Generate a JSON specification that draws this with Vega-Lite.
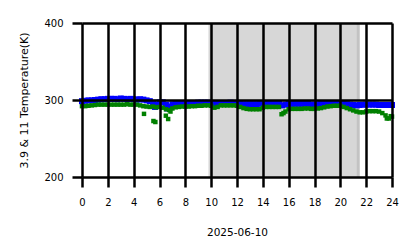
{
  "$schema": "https://vega.github.io/schema/vega-lite/v6.json",
  "width": 310,
  "height": 154,
  "autosize": "none",
  "padding": {"left": 82, "top": 23, "right": 26, "bottom": 71},
  "background": "white",
  "config": {
    "view": {"stroke": null},
    "font": "DejaVu Sans",
    "axis": {
      "grid": true,
      "gridColor": "black",
      "gridWidth": 2.5,
      "gridOpacity": 1,
      "domain": false,
      "tickColor": "black",
      "tickWidth": 2.5,
      "tickSize": 10,
      "labelFlush": false,
      "labelFont": "DejaVu Sans",
      "labelFontSize": 10,
      "labelColor": "black",
      "titleFont": "DejaVu Sans",
      "titleFontWeight": "normal",
      "titleColor": "black"
    }
  },
  "datasets": {
    "night": [
      {"start": 9.79, "end": 21.5},
      {"start": 21.27, "end": 21.5}
    ],
    "temps": [
      {"h": 0, "band": "3.9", "T": 298.5}, {"h": 0.25, "band": "3.9", "T": 299}, {"h": 0.5, "band": "3.9", "T": 299.5}, {"h": 0.75, "band": "3.9", "T": 299.5},
      {"h": 1, "band": "3.9", "T": 300}, {"h": 1.25, "band": "3.9", "T": 300.5}, {"h": 1.5, "band": "3.9", "T": 301}, {"h": 1.75, "band": "3.9", "T": 301},
      {"h": 2, "band": "3.9", "T": 301.5}, {"h": 2.25, "band": "3.9", "T": 301.5}, {"h": 2.5, "band": "3.9", "T": 301.5}, {"h": 2.75, "band": "3.9", "T": 301},
      {"h": 3, "band": "3.9", "T": 302}, {"h": 3.25, "band": "3.9", "T": 301.5}, {"h": 3.5, "band": "3.9", "T": 301}, {"h": 3.75, "band": "3.9", "T": 301.5},
      {"h": 4, "band": "3.9", "T": 301}, {"h": 4.25, "band": "3.9", "T": 300.5}, {"h": 4.5, "band": "3.9", "T": 301}, {"h": 4.75, "band": "3.9", "T": 300.5},
      {"h": 5, "band": "3.9", "T": 299.5}, {"h": 5.25, "band": "3.9", "T": 298.5}, {"h": 5.5, "band": "3.9", "T": 296.5}, {"h": 5.65, "band": "3.9", "T": 291}, {"h": 5.75, "band": "3.9", "T": 294},
      {"h": 6, "band": "3.9", "T": 297}, {"h": 6.25, "band": "3.9", "T": 297}, {"h": 6.5, "band": "3.9", "T": 294}, {"h": 6.6, "band": "3.9", "T": 289}, {"h": 6.75, "band": "3.9", "T": 291.5},
      {"h": 7, "band": "3.9", "T": 294.5}, {"h": 7.25, "band": "3.9", "T": 295.5}, {"h": 7.5, "band": "3.9", "T": 296}, {"h": 7.75, "band": "3.9", "T": 296},
      {"h": 8, "band": "3.9", "T": 296}, {"h": 8.25, "band": "3.9", "T": 296}, {"h": 8.5, "band": "3.9", "T": 296}, {"h": 8.75, "band": "3.9", "T": 296},
      {"h": 9, "band": "3.9", "T": 296.5}, {"h": 9.25, "band": "3.9", "T": 296.5}, {"h": 9.5, "band": "3.9", "T": 296.5}, {"h": 9.75, "band": "3.9", "T": 296.5},
      {"h": 10, "band": "3.9", "T": 296}, {"h": 10.25, "band": "3.9", "T": 295.5}, {"h": 10.5, "band": "3.9", "T": 296}, {"h": 10.75, "band": "3.9", "T": 296},
      {"h": 11, "band": "3.9", "T": 296}, {"h": 11.25, "band": "3.9", "T": 296}, {"h": 11.5, "band": "3.9", "T": 296.5}, {"h": 11.75, "band": "3.9", "T": 296},
      {"h": 12, "band": "3.9", "T": 296}, {"h": 12.25, "band": "3.9", "T": 295}, {"h": 12.5, "band": "3.9", "T": 294.5}, {"h": 12.75, "band": "3.9", "T": 294.5},
      {"h": 13, "band": "3.9", "T": 294.5}, {"h": 13.25, "band": "3.9", "T": 294.5}, {"h": 13.5, "band": "3.9", "T": 294.5}, {"h": 13.75, "band": "3.9", "T": 295},
      {"h": 14, "band": "3.9", "T": 296}, {"h": 14.25, "band": "3.9", "T": 296}, {"h": 14.5, "band": "3.9", "T": 296}, {"h": 14.75, "band": "3.9", "T": 296},
      {"h": 15, "band": "3.9", "T": 296}, {"h": 15.25, "band": "3.9", "T": 295.5}, {"h": 15.5, "band": "3.9", "T": 293}, {"h": 15.75, "band": "3.9", "T": 294},
      {"h": 16, "band": "3.9", "T": 295}, {"h": 16.25, "band": "3.9", "T": 295}, {"h": 16.5, "band": "3.9", "T": 295}, {"h": 16.75, "band": "3.9", "T": 295},
      {"h": 17, "band": "3.9", "T": 295}, {"h": 17.25, "band": "3.9", "T": 295}, {"h": 17.5, "band": "3.9", "T": 295}, {"h": 17.75, "band": "3.9", "T": 294},
      {"h": 18, "band": "3.9", "T": 294}, {"h": 18.25, "band": "3.9", "T": 294.5}, {"h": 18.5, "band": "3.9", "T": 295}, {"h": 18.75, "band": "3.9", "T": 295.5},
      {"h": 19, "band": "3.9", "T": 296}, {"h": 19.25, "band": "3.9", "T": 296}, {"h": 19.5, "band": "3.9", "T": 296}, {"h": 19.75, "band": "3.9", "T": 296},
      {"h": 20, "band": "3.9", "T": 296}, {"h": 20.25, "band": "3.9", "T": 295}, {"h": 20.5, "band": "3.9", "T": 294.5}, {"h": 20.75, "band": "3.9", "T": 294},
      {"h": 21, "band": "3.9", "T": 293.5}, {"h": 21.25, "band": "3.9", "T": 293}, {"h": 21.5, "band": "3.9", "T": 293.5}, {"h": 21.75, "band": "3.9", "T": 294},
      {"h": 22, "band": "3.9", "T": 294}, {"h": 22.25, "band": "3.9", "T": 294}, {"h": 22.5, "band": "3.9", "T": 294}, {"h": 22.75, "band": "3.9", "T": 294},
      {"h": 23, "band": "3.9", "T": 293.5}, {"h": 23.25, "band": "3.9", "T": 293.5}, {"h": 23.5, "band": "3.9", "T": 293.5}, {"h": 23.75, "band": "3.9", "T": 293.5},
      {"h": 24, "band": "3.9", "T": 293.5},
      {"h": 0, "band": "11", "T": 292}, {"h": 0.25, "band": "11", "T": 292}, {"h": 0.5, "band": "11", "T": 292.5}, {"h": 0.75, "band": "11", "T": 293},
      {"h": 1, "band": "11", "T": 293.5}, {"h": 1.25, "band": "11", "T": 294}, {"h": 1.5, "band": "11", "T": 294}, {"h": 1.75, "band": "11", "T": 294},
      {"h": 2, "band": "11", "T": 294}, {"h": 2.25, "band": "11", "T": 294}, {"h": 2.5, "band": "11", "T": 294}, {"h": 2.75, "band": "11", "T": 294},
      {"h": 3, "band": "11", "T": 294}, {"h": 3.25, "band": "11", "T": 294}, {"h": 3.5, "band": "11", "T": 294.5}, {"h": 3.75, "band": "11", "T": 294},
      {"h": 4, "band": "11", "T": 294}, {"h": 4.25, "band": "11", "T": 294}, {"h": 4.5, "band": "11", "T": 293}, {"h": 4.75, "band": "11", "T": 292},
      {"h": 4.8, "band": "11", "T": 282},
      {"h": 5, "band": "11", "T": 291.5}, {"h": 5.25, "band": "11", "T": 291}, {"h": 5.5, "band": "11", "T": 291.5}, {"h": 5.53, "band": "11", "T": 272.7}, {"h": 5.68, "band": "11", "T": 271.4}, {"h": 5.75, "band": "11", "T": 290.5},
      {"h": 6, "band": "11", "T": 291}, {"h": 6.25, "band": "11", "T": 290}, {"h": 6.49, "band": "11", "T": 279.6}, {"h": 6.5, "band": "11", "T": 288}, {"h": 6.67, "band": "11", "T": 275.3}, {"h": 6.75, "band": "11", "T": 287}, {"h": 6.85, "band": "11", "T": 285},
      {"h": 7, "band": "11", "T": 289}, {"h": 7.25, "band": "11", "T": 290.5}, {"h": 7.5, "band": "11", "T": 291}, {"h": 7.75, "band": "11", "T": 291.5},
      {"h": 8, "band": "11", "T": 291.5}, {"h": 8.25, "band": "11", "T": 291.5}, {"h": 8.5, "band": "11", "T": 292}, {"h": 8.75, "band": "11", "T": 292},
      {"h": 9, "band": "11", "T": 292.5}, {"h": 9.25, "band": "11", "T": 292.5}, {"h": 9.5, "band": "11", "T": 293}, {"h": 9.75, "band": "11", "T": 293},
      {"h": 10, "band": "11", "T": 292.5}, {"h": 10.25, "band": "11", "T": 290}, {"h": 10.5, "band": "11", "T": 291}, {"h": 10.75, "band": "11", "T": 293},
      {"h": 11, "band": "11", "T": 293}, {"h": 11.25, "band": "11", "T": 293}, {"h": 11.5, "band": "11", "T": 293}, {"h": 11.75, "band": "11", "T": 293},
      {"h": 12, "band": "11", "T": 292.5}, {"h": 12.25, "band": "11", "T": 291}, {"h": 12.5, "band": "11", "T": 289.5}, {"h": 12.75, "band": "11", "T": 288.5},
      {"h": 13, "band": "11", "T": 288}, {"h": 13.25, "band": "11", "T": 288}, {"h": 13.5, "band": "11", "T": 288}, {"h": 13.75, "band": "11", "T": 288},
      {"h": 14, "band": "11", "T": 290}, {"h": 14.25, "band": "11", "T": 291}, {"h": 14.5, "band": "11", "T": 291}, {"h": 14.75, "band": "11", "T": 291},
      {"h": 15, "band": "11", "T": 291}, {"h": 15.25, "band": "11", "T": 291}, {"h": 15.45, "band": "11", "T": 281.5}, {"h": 15.6, "band": "11", "T": 283}, {"h": 15.75, "band": "11", "T": 285},
      {"h": 16, "band": "11", "T": 288}, {"h": 16.25, "band": "11", "T": 288.5}, {"h": 16.5, "band": "11", "T": 288.5}, {"h": 16.75, "band": "11", "T": 288.5},
      {"h": 17, "band": "11", "T": 288.5}, {"h": 17.25, "band": "11", "T": 289}, {"h": 17.5, "band": "11", "T": 289}, {"h": 17.75, "band": "11", "T": 288.5},
      {"h": 18, "band": "11", "T": 288.5}, {"h": 18.25, "band": "11", "T": 289}, {"h": 18.5, "band": "11", "T": 289.5}, {"h": 18.75, "band": "11", "T": 290.5},
      {"h": 19, "band": "11", "T": 291.5}, {"h": 19.25, "band": "11", "T": 292}, {"h": 19.5, "band": "11", "T": 292.5}, {"h": 19.75, "band": "11", "T": 292.5},
      {"h": 20, "band": "11", "T": 292.5}, {"h": 20.25, "band": "11", "T": 291}, {"h": 20.5, "band": "11", "T": 289.5}, {"h": 20.75, "band": "11", "T": 288},
      {"h": 21, "band": "11", "T": 286.5}, {"h": 21.25, "band": "11", "T": 285}, {"h": 21.5, "band": "11", "T": 284}, {"h": 21.75, "band": "11", "T": 284},
      {"h": 22, "band": "11", "T": 285}, {"h": 22.25, "band": "11", "T": 285.5}, {"h": 22.5, "band": "11", "T": 285.5}, {"h": 22.75, "band": "11", "T": 285.5},
      {"h": 23, "band": "11", "T": 285}, {"h": 23.25, "band": "11", "T": 283}, {"h": 23.5, "band": "11", "T": 280}, {"h": 23.6, "band": "11", "T": 276}, {"h": 23.75, "band": "11", "T": 276},
      {"h": 23.9, "band": "11", "T": 279}, {"h": 24, "band": "11", "T": 278.5}
    ]
  },
  "layer": [
    {
      "data": {"name": "night"},
      "mark": {"type": "rect", "color": "#b0b0b0", "opacity": 0.5},
      "encoding": {
        "x": {"field": "start", "type": "quantitative", "scale": {"domain": [0, 24], "nice": false}, "title": "2025-06-10",
              "axis": {"values": [0, 2, 4, 6, 8, 10, 12, 14, 16, 18, 20, 22, 24], "labelPadding": 10, "titlePadding": 20, "titleFontSize": 10.5, "zindex": 1}},
        "x2": {"field": "end"}
      }
    },
    {
      "data": {"name": "temps"},
      "mark": {"type": "point", "shape": "square", "filled": true, "opacity": 1},
      "encoding": {
        "x": {"field": "h", "type": "quantitative", "scale": {"domain": [0, 24], "nice": false}, "title": "2025-06-10",
              "axis": {"values": [0, 2, 4, 6, 8, 10, 12, 14, 16, 18, 20, 22, 24], "labelPadding": 10, "titlePadding": 20, "titleFontSize": 10.5, "zindex": 1}},
        "y": {"field": "T", "type": "quantitative", "scale": {"domain": [200, 400], "nice": false}, "title": "3.9 & 11 Temperature(K)",
              "axis": {"values": [200, 300, 400], "labelPadding": 9, "titlePadding": 14, "titleFontSize": 11, "zindex": 1}},
        "color": {"field": "band", "type": "nominal", "scale": {"domain": ["3.9", "11"], "range": ["#0000ff", "#008000"]}, "legend": null},
        "size": {"field": "band", "type": "nominal", "scale": {"domain": ["3.9", "11"], "range": [36, 20]}, "legend": null}
      }
    }
  ]
}
